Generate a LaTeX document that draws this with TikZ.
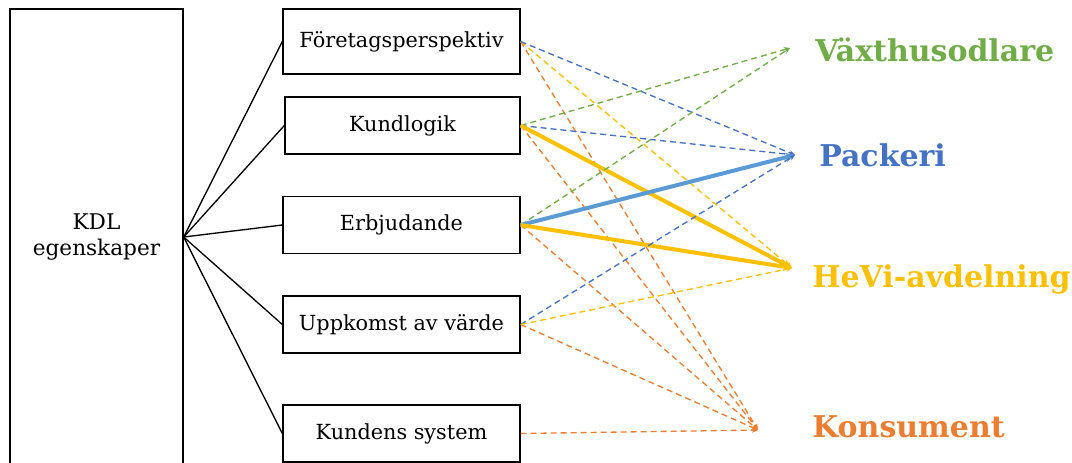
\documentclass[tikz,border=0pt]{standalone}
\usepackage{fontspec}
\setmainfont{DejaVu Serif}
\usetikzlibrary{arrows.meta}

\definecolor{kgreen}{HTML}{70AD47}
\definecolor{kblue}{HTML}{4472C4}
\definecolor{klight}{HTML}{5B9BD5}
\definecolor{kyellow}{HTML}{FFC000}
\definecolor{korange}{HTML}{ED7D31}

\tikzset{
  box/.style={draw, line width=1pt, minimum width=177.75pt, minimum height=42.75pt,
    inner sep=0pt, font=\fontsize{15.6}{18}\selectfont},
  link/.style={dashed, dash pattern=on 4.5pt off 3pt, line width=1pt, -{Stealth[length=4.5pt,width=4pt]}},
  strong/.style={line width=3pt, -{Stealth[length=7pt,width=7pt]}},
  target/.style={anchor=west, inner sep=0pt, font=\fontsize{22.5}{26}\selectfont\bfseries},
}

\begin{document}
\begin{tikzpicture}[x=0.75pt, y=-0.75pt]
  \useasboundingbox (0,0) rectangle (1072,462);

  % left block
  \node[draw, line width=1pt, minimum width=129.75pt, minimum height=342pt, align=center,
    font=\fontsize{16.2}{20}\selectfont] (kdl) at (96.5,237) {KDL\\egenskaper};

  % properties
  \node[box, minimum height=48.75pt] (fp) at (401.5,41.5) {Företagsperspektiv};
  \node[box, minimum width=176.25pt] (kl) at (402.5,125.5) {Kundlogik};
  \node[box] (eb) at (401.5,225) {Erbjudande};
  \node[box] (uv) at (401.5,324.5) {Uppkomst av värde};
  \node[box] (ks) at (401.5,433.5) {Kundens system};

  \foreach \n in {fp,kl,eb,uv,ks}
    \draw[line width=1pt] (kdl.east) -- (\n.west);

  % actors
  \coordinate (gv) at (790,48);
  \coordinate (pk) at (795,155);
  \coordinate (hv) at (792,268);
  \coordinate (ko) at (758,430);
  \node[target, text=kgreen] (tgv) at (815,50) {Växthusodlare};
  \node[target, text=kblue] (tpk) at (819,155) {Packeri};
  \node[target, text=kyellow] (thv) at (812,279) {HeVi-avdelning};
  \node[target, text=korange] (tko) at (812,427) {Konsument};

  % links
  \draw[link, korange] (fp.east) -- (ko);
  \draw[link, kyellow] (fp.east) -- (hv);
  \draw[link, kblue] (fp.east) -- (pk);
  \draw[link, korange] (kl.east) -- (ko);
  \draw[link, kgreen] (kl.east) -- (gv);
  \draw[link, kblue] (kl.east) -- (pk);
  \draw[strong, kyellow] (kl.east) -- (hv);
  \draw[link, korange] (eb.east) -- (ko);
  \draw[link, kgreen] (eb.east) -- (gv);
  \draw[strong, klight] (eb.east) -- (pk);
  \draw[strong, kyellow] (eb.east) -- (hv);
  \draw[link, korange] (uv.east) -- (ko);
  \draw[link, kblue] (uv.east) -- (pk);
  \draw[link, kyellow] (uv.east) -- (hv);
  \draw[link, korange] (ks.east) -- (ko);
\end{tikzpicture}
\end{document}
